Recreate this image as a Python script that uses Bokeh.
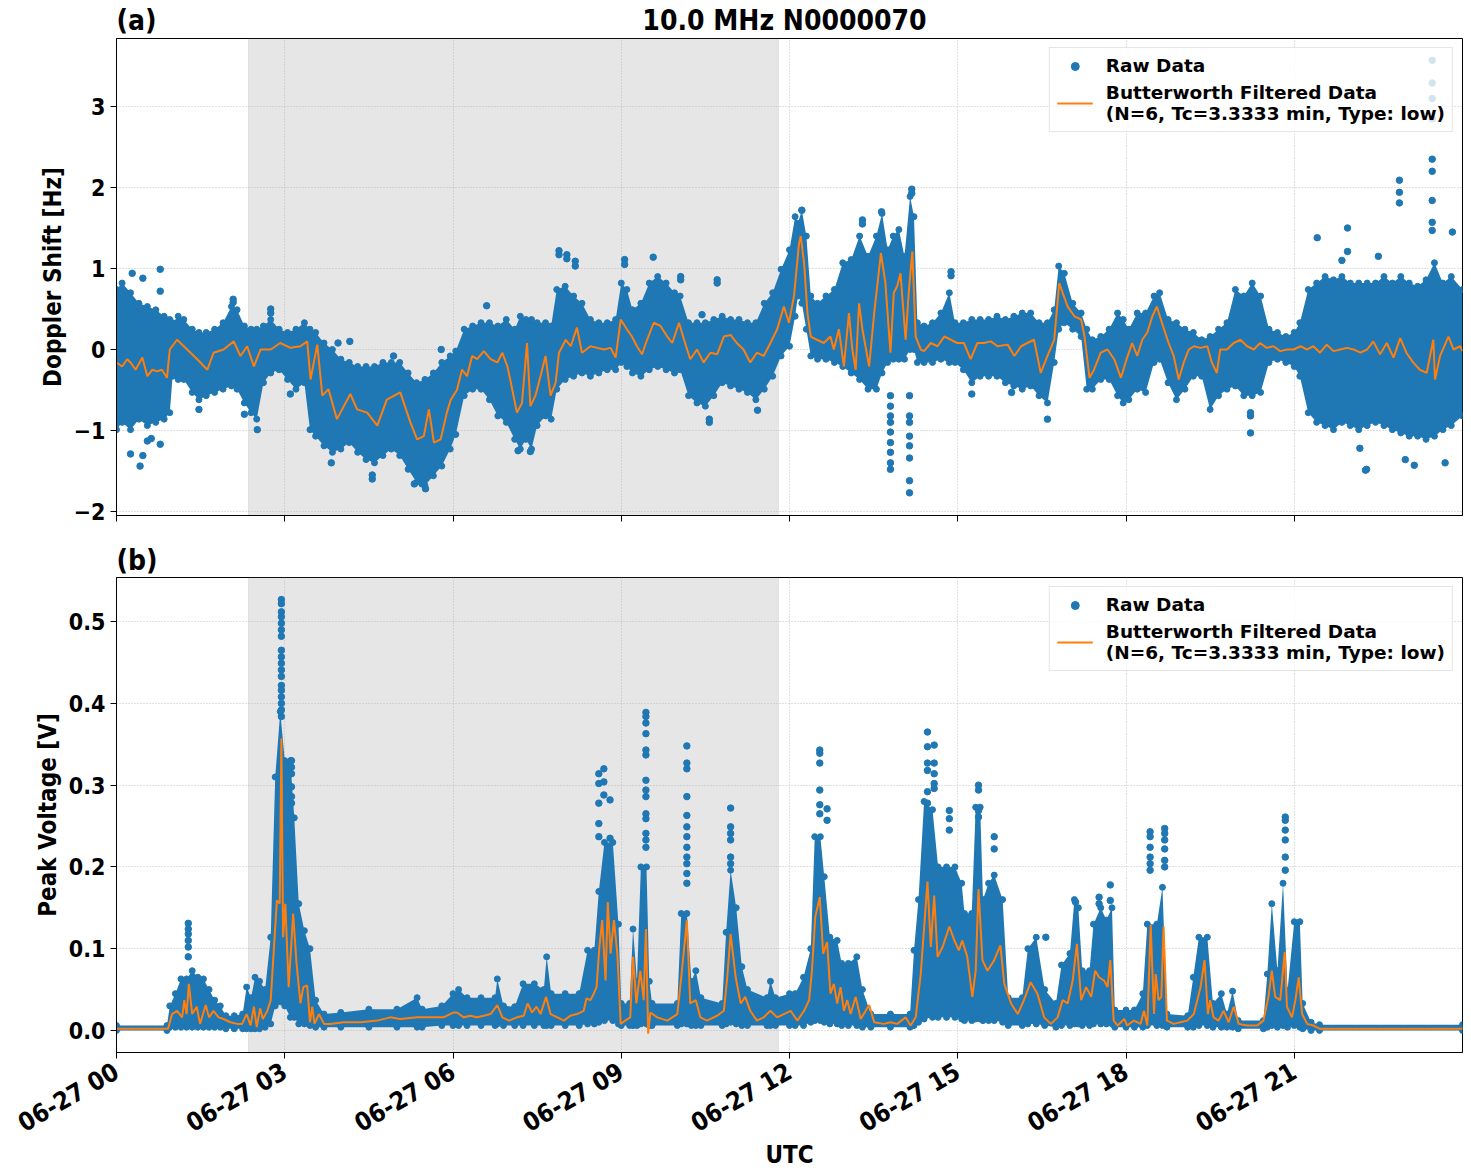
import math
from bokeh.plotting import figure
from bokeh.layouts import column
from bokeh.core.properties import value
from bokeh.models import (Range1d, FixedTicker, DatetimeTickFormatter, BoxAnnotation,
                          Legend, LegendItem, PrintfTickFormatter, CustomJSTickFormatter)
from bokeh.embed import file_html
from bokeh.resources import INLINE

# ---------------------------------------------------------------- data
DAY_START_MS = 1719446400000.0  # 06-27 00:00 UTC
HOUR_MS = 3600000.0

TITLE = "10.0 MHz N0000070"
FILTER_LABEL = "Butterworth Filtered Data\n(N=6, Tc=3.3333 min, Type: low)"
TICK_HOURS = [0, 3, 6, 9, 12, 15, 18, 21]
NIGHT_SPAN = (2.354, 11.804)  # shaded interval, hours UTC

# Doppler shift raw-data spread: (hour, low, high) [Hz]
DOPPLER_SPREAD = [
    (0.00, -0.99, 0.74), (0.10, -0.90, 0.82), (0.25, -0.99, 0.70), (0.40, -0.86, 0.57),
    (0.55, -0.94, 0.53), (0.70, -0.90, 0.49), (0.85, -0.86, 0.41), (0.95, -0.78, 0.37),
    (1.00, -0.33, 0.33), (1.10, -0.37, 0.41), (1.20, -0.37, 0.37), (1.35, -0.53, 0.25),
    (1.47, -0.62, 0.21), (1.60, -0.57, 0.21), (1.75, -0.53, 0.25), (1.90, -0.49, 0.33),
    (2.05, -0.45, 0.53), (2.15, -0.49, 0.49), (2.28, -0.66, 0.29), (2.40, -0.78, 0.25),
    (2.50, -0.86, 0.25), (2.62, -0.41, 0.29), (2.75, -0.29, 0.37), (2.90, -0.25, 0.25),
    (3.05, -0.37, 0.21), (3.20, -0.49, 0.25), (3.35, -0.41, 0.33), (3.45, -0.99, 0.25),
    (3.55, -1.07, 0.21), (3.70, -1.19, 0.08), (3.85, -1.27, 0.00), (4.00, -1.23, -0.12),
    (4.15, -1.15, -0.16), (4.30, -1.27, -0.21), (4.45, -1.36, -0.21), (4.60, -1.40, -0.21),
    (4.75, -1.31, -0.16), (4.90, -1.23, -0.16), (5.05, -1.31, -0.16), (5.20, -1.48, -0.29),
    (5.35, -1.64, -0.41), (5.50, -1.68, -0.37), (5.65, -1.56, -0.29), (5.80, -1.44, -0.16),
    (5.95, -1.23, -0.08), (6.05, -1.05, -0.02), (6.20, -0.57, 0.25), (6.35, -0.49, 0.29),
    (6.50, -0.49, 0.33), (6.65, -0.62, 0.33), (6.80, -0.82, 0.29), (6.95, -0.90, 0.37),
    (7.10, -1.11, 0.25), (7.20, -1.23, 0.41), (7.30, -1.11, 0.37), (7.40, -1.23, 0.37),
    (7.50, -0.94, 0.33), (7.65, -0.82, 0.33), (7.75, -0.86, 0.29), (7.85, -0.49, 0.74),
    (8.00, -0.37, 0.78), (8.15, -0.33, 0.66), (8.30, -0.29, 0.57), (8.45, -0.33, 0.37),
    (8.60, -0.29, 0.33), (8.75, -0.25, 0.33), (8.90, -0.25, 0.37), (9.00, -0.16, 0.82),
    (9.10, -0.21, 0.74), (9.20, -0.29, 0.49), (9.35, -0.33, 0.57), (9.50, -0.25, 0.82),
    (9.65, -0.21, 0.90), (9.80, -0.25, 0.82), (9.95, -0.29, 0.70), (10.05, -0.25, 0.66),
    (10.20, -0.57, 0.33), (10.35, -0.66, 0.33), (10.50, -0.70, 0.33), (10.65, -0.57, 0.37),
    (10.80, -0.41, 0.41), (10.95, -0.45, 0.37), (11.10, -0.49, 0.37), (11.25, -0.53, 0.33),
    (11.40, -0.62, 0.33), (11.55, -0.49, 0.57), (11.70, -0.33, 0.70), (11.85, -0.08, 0.99),
    (12.00, 0.04, 1.23), (12.10, 0.41, 1.64), (12.15, 0.66, 1.56), (12.22, 0.57, 1.72),
    (12.30, 0.25, 1.40), (12.38, -0.08, 0.66), (12.50, -0.12, 0.57), (12.65, -0.12, 0.66),
    (12.80, -0.16, 0.74), (12.95, -0.21, 1.07), (13.10, -0.29, 1.11), (13.25, -0.37, 1.40),
    (13.40, -0.49, 1.15), (13.55, -0.49, 1.40), (13.65, -0.29, 1.68), (13.75, -0.16, 1.23),
    (13.85, -0.12, 1.40), (13.95, -0.12, 1.48), (14.05, -0.12, 1.15), (14.15, 0.00, 1.89),
    (14.22, 0.00, 1.64), (14.28, -0.16, 0.33), (14.40, -0.16, 0.29), (14.55, -0.16, 0.33),
    (14.70, -0.12, 0.45), (14.85, -0.16, 0.70), (14.95, -0.16, 0.33), (15.10, -0.25, 0.33),
    (15.25, -0.41, 0.37), (15.40, -0.33, 0.37), (15.55, -0.33, 0.37), (15.70, -0.33, 0.41),
    (15.85, -0.41, 0.37), (16.00, -0.45, 0.41), (16.15, -0.49, 0.45), (16.30, -0.45, 0.45),
    (16.45, -0.57, 0.33), (16.60, -0.66, 0.33), (16.72, -0.16, 0.49), (16.80, 0.25, 1.03),
    (16.90, 0.33, 0.94), (17.05, 0.25, 0.57), (17.20, 0.16, 0.45), (17.30, -0.49, 0.25),
    (17.40, -0.49, 0.12), (17.55, -0.37, 0.16), (17.70, -0.37, 0.25), (17.85, -0.57, 0.45),
    (17.95, -0.66, 0.37), (18.05, -0.62, 0.25), (18.20, -0.49, 0.45), (18.35, -0.53, 0.45),
    (18.50, -0.16, 0.66), (18.60, -0.12, 0.70), (18.75, -0.41, 0.37), (18.90, -0.62, 0.33),
    (19.05, -0.49, 0.25), (19.20, -0.33, 0.21), (19.35, -0.33, 0.12), (19.50, -0.74, 0.16),
    (19.65, -0.57, 0.25), (19.80, -0.49, 0.33), (19.95, -0.45, 0.74), (20.10, -0.57, 0.66),
    (20.25, -0.57, 0.82), (20.40, -0.53, 0.66), (20.55, -0.16, 0.25), (20.70, -0.12, 0.21),
    (20.85, -0.16, 0.16), (21.00, -0.21, 0.21), (21.10, -0.33, 0.33), (21.25, -0.78, 0.74),
    (21.40, -0.90, 0.82), (21.55, -0.94, 0.90), (21.70, -0.99, 0.86), (21.85, -0.90, 0.90),
    (22.00, -0.94, 0.82), (22.15, -0.99, 0.82), (22.30, -0.94, 0.82), (22.45, -0.90, 0.82),
    (22.60, -0.94, 0.90), (22.75, -0.99, 0.82), (22.90, -1.03, 0.90), (23.05, -1.07, 0.82),
    (23.20, -1.07, 0.78), (23.35, -1.11, 0.86), (23.50, -1.07, 1.07), (23.65, -0.99, 0.82),
    (23.80, -0.94, 0.90), (24.00, -0.82, 0.74),
]

# Doppler shift isolated raw samples: (hour, value) [Hz]
DOPPLER_OUTLIERS = [
    (0.28, 0.94), (0.47, 0.88), (0.78, 0.99), (0.78, 0.72), (0.42, -1.44), (0.25, -1.29),
    (0.47, -1.31), (0.78, -1.17), (0.55, -1.13), (0.62, -1.10), (1.47, -0.74), (2.28, -0.80),
    (2.51, -0.99), (2.75, 0.45), (2.75, 0.50), (2.08, 0.62), (2.08, 0.58), (3.10, -0.55),
    (3.83, -1.40), (4.56, -1.60), (4.56, -1.55), (5.31, -1.66), (5.51, -1.72), (5.45, -1.66),
    (5.79, 0.00), (3.95, 0.08), (4.16, 0.10), (4.94, -0.08),
    (6.60, 0.54), (7.89, 1.22), (7.89, 1.17), (8.03, 1.17), (8.03, 1.12), (8.18, 1.09),
    (8.18, 1.03), (9.06, 1.11), (9.06, 1.05), (9.57, 1.14), (10.06, 0.90), (10.06, 0.86),
    (10.71, 0.86), (10.71, 0.82), (10.44, 0.43), (11.43, -0.75), (10.57, -0.90), (10.57, -0.86),
    (7.16, -1.25), (7.38, -1.26),
    (12.22, 1.72), (13.64, 1.70), (14.18, 1.98), (14.18, 1.93), (13.30, 1.60), (13.30, 1.55),
    (14.88, 0.96), (14.88, 0.91),
    (13.80, -0.57), (13.80, -0.70), (13.80, -0.82), (13.80, -0.90), (13.80, -1.02),
    (13.80, -1.15), (13.80, -1.27), (13.80, -1.40), (13.80, -1.48),
    (14.14, -0.57), (14.14, -0.82), (14.14, -0.90), (14.14, -1.07), (14.14, -1.19),
    (14.14, -1.34), (14.14, -1.62), (14.14, -1.77),
    (16.60, -0.86), (15.25, -0.55), (15.96, -0.53),
    (20.22, -1.03), (20.22, -0.82), (20.22, -0.78),
    (21.41, 1.38), (21.95, 1.50), (21.95, 1.21), (21.85, 1.10), (22.50, 1.15),
    (22.875, 2.09), (22.875, 1.94), (22.875, 1.81),
    (23.46, 2.35), (23.46, 2.20), (23.46, 1.84), (23.46, 1.57), (23.46, 1.47),
    (23.46, 3.57), (23.46, 3.29), (23.46, 3.10), (23.46, 2.85),
    (23.82, 1.45), (22.27, -1.49), (22.29, -1.48), (23.14, -1.43), (23.69, -1.40),
    (22.98, -1.36), (22.17, -1.22),
]

# Doppler shift after low-pass filtering: (hour, value) [Hz]
DOPPLER_FILTERED = [
    (0.00, -0.16), (0.10, -0.21), (0.19, -0.12), (0.25, -0.16), (0.34, -0.25), (0.46, -0.10),
    (0.55, -0.33), (0.64, -0.25), (0.72, -0.27), (0.81, -0.25), (0.90, -0.35), (0.95, 0.00),
    (1.08, 0.12), (1.26, 0.00), (1.44, -0.12), (1.62, -0.25), (1.73, -0.04), (1.91, 0.00),
    (2.09, 0.10), (2.21, -0.08), (2.33, 0.04), (2.45, -0.21), (2.57, 0.00), (2.75, 0.00),
    (2.92, 0.08), (3.10, 0.02), (3.28, 0.04), (3.40, 0.10), (3.46, -0.37), (3.58, 0.06),
    (3.67, -0.57), (3.78, -0.49), (3.93, -0.86), (4.17, -0.55), (4.29, -0.74), (4.47, -0.78),
    (4.65, -0.94), (4.82, -0.62), (5.06, -0.53), (5.24, -0.90), (5.36, -1.11), (5.48, -1.07),
    (5.57, -0.74), (5.66, -1.15), (5.78, -1.11), (5.89, -0.78), (5.96, -0.62), (6.07, -0.50),
    (6.16, -0.25), (6.25, -0.33), (6.34, -0.08), (6.43, -0.12), (6.55, -0.02), (6.67, -0.12),
    (6.79, -0.16), (6.88, -0.04), (6.97, -0.21), (7.02, -0.37), (7.14, -0.78), (7.23, -0.66),
    (7.32, 0.08), (7.38, -0.70), (7.47, -0.57), (7.56, -0.33), (7.65, -0.08), (7.74, -0.57),
    (7.83, -0.41), (7.89, -0.04), (8.01, 0.12), (8.10, 0.04), (8.21, 0.27), (8.30, -0.04),
    (8.45, 0.04), (8.57, 0.02), (8.69, 0.00), (8.81, 0.02), (8.90, -0.10), (8.99, 0.37),
    (9.10, 0.25), (9.19, 0.16), (9.28, 0.04), (9.37, -0.06), (9.46, 0.12), (9.58, 0.33),
    (9.70, 0.29), (9.82, 0.16), (9.91, 0.08), (10.03, 0.33), (10.12, 0.12), (10.23, -0.12),
    (10.35, 0.00), (10.47, -0.16), (10.59, -0.04), (10.71, -0.06), (10.83, 0.16), (10.95, 0.18),
    (11.06, 0.08), (11.18, 0.00), (11.30, -0.16), (11.42, -0.04), (11.54, -0.08), (11.66, 0.08),
    (11.78, 0.25), (11.90, 0.53), (11.99, 0.33), (12.08, 0.66), (12.17, 1.31), (12.20, 1.40),
    (12.26, 1.07), (12.32, 0.45), (12.38, 0.16), (12.49, 0.12), (12.61, 0.08), (12.73, 0.16),
    (12.79, 0.00), (12.88, 0.25), (12.97, -0.21), (13.06, 0.45), (13.12, 0.00), (13.18, -0.25),
    (13.24, 0.57), (13.30, 0.25), (13.42, -0.21), (13.51, 0.45), (13.63, 1.19), (13.71, 0.82),
    (13.80, -0.04), (13.86, 0.70), (13.92, 0.78), (13.98, 0.94), (14.07, 0.12), (14.13, 0.74),
    (14.19, 1.21), (14.25, 0.16), (14.34, 0.00), (14.40, -0.02), (14.52, 0.08), (14.64, 0.04),
    (14.76, 0.16), (14.88, 0.12), (14.99, 0.08), (15.11, 0.08), (15.23, -0.12), (15.35, 0.08),
    (15.47, 0.08), (15.59, 0.10), (15.71, 0.04), (15.89, 0.06), (16.01, -0.08), (16.13, 0.04),
    (16.24, 0.08), (16.36, 0.12), (16.48, -0.29), (16.60, -0.08), (16.72, 0.12), (16.81, 0.82),
    (16.87, 0.70), (16.96, 0.53), (17.08, 0.41), (17.20, 0.37), (17.26, 0.16), (17.35, -0.35),
    (17.43, -0.25), (17.55, -0.04), (17.67, 0.00), (17.79, -0.12), (17.91, -0.35), (18.02, -0.10),
    (18.11, 0.08), (18.20, -0.08), (18.29, 0.12), (18.38, 0.21), (18.47, 0.41), (18.55, 0.53),
    (18.64, 0.33), (18.76, 0.08), (18.85, -0.08), (18.94, -0.37), (19.03, -0.16), (19.12, 0.00),
    (19.21, 0.04), (19.33, 0.02), (19.45, 0.04), (19.53, -0.16), (19.62, -0.29), (19.68, 0.00),
    (19.80, 0.00), (19.92, 0.08), (20.04, 0.12), (20.16, 0.04), (20.28, 0.00), (20.39, 0.08),
    (20.51, 0.02), (20.63, 0.04), (20.75, -0.02), (20.87, 0.00), (20.99, 0.00), (21.11, 0.04),
    (21.23, 0.00), (21.34, 0.04), (21.46, -0.04), (21.58, 0.06), (21.70, -0.02), (21.82, 0.00),
    (21.94, 0.02), (22.06, 0.00), (22.18, -0.04), (22.30, 0.00), (22.41, 0.10), (22.53, -0.06),
    (22.65, 0.08), (22.77, -0.10), (22.89, 0.14), (23.00, -0.04), (23.12, -0.16), (23.24, -0.25),
    (23.36, -0.29), (23.48, 0.12), (23.51, -0.37), (23.60, -0.08), (23.75, 0.16), (23.84, 0.00),
    (23.96, 0.04), (24.00, -0.02),
]

# Peak voltage raw-data spread: (hour, low, high) [V]
VOLTAGE_SPREAD = [
    (0.00, 0.000, 0.006), (0.90, 0.000, 0.006), (0.95, 0.004, 0.030), (1.05, 0.004, 0.045),
    (1.15, 0.004, 0.063), (1.25, 0.004, 0.063), (1.35, 0.004, 0.073), (1.45, 0.004, 0.065),
    (1.55, 0.004, 0.063), (1.65, 0.004, 0.050), (1.75, 0.004, 0.037), (1.85, 0.004, 0.030),
    (1.95, 0.002, 0.018), (2.10, 0.002, 0.018), (2.25, 0.002, 0.020), (2.32, 0.002, 0.053),
    (2.40, 0.002, 0.040), (2.47, 0.002, 0.065), (2.55, 0.002, 0.060), (2.65, 0.004, 0.050),
    (2.75, 0.008, 0.114), (2.83, 0.030, 0.310), (2.92, 0.035, 0.390), (3.00, 0.030, 0.330),
    (3.10, 0.016, 0.330), (3.17, 0.016, 0.260), (3.25, 0.008, 0.155), (3.35, 0.008, 0.122),
    (3.45, 0.006, 0.100), (3.55, 0.004, 0.037), (3.70, 0.004, 0.020), (4.00, 0.004, 0.022),
    (4.50, 0.004, 0.026), (5.00, 0.004, 0.026), (5.36, 0.004, 0.040), (5.45, 0.004, 0.026),
    (5.80, 0.006, 0.030), (6.00, 0.006, 0.045), (6.10, 0.006, 0.050), (6.25, 0.006, 0.040),
    (6.50, 0.006, 0.040), (6.75, 0.006, 0.040), (6.79, 0.008, 0.063), (6.90, 0.006, 0.030),
    (7.10, 0.006, 0.029), (7.25, 0.006, 0.057), (7.45, 0.006, 0.057), (7.62, 0.006, 0.050),
    (7.67, 0.006, 0.090), (7.75, 0.006, 0.045), (8.00, 0.006, 0.045), (8.25, 0.006, 0.045),
    (8.40, 0.008, 0.098), (8.52, 0.008, 0.098), (8.60, 0.010, 0.170), (8.70, 0.012, 0.230),
    (8.85, 0.012, 0.230), (8.95, 0.008, 0.130), (9.00, 0.006, 0.033), (9.15, 0.006, 0.033),
    (9.21, 0.006, 0.124), (9.28, 0.006, 0.060), (9.35, 0.008, 0.200), (9.45, 0.008, 0.200),
    (9.50, 0.006, 0.060), (9.55, 0.006, 0.033), (10.00, 0.006, 0.033), (10.07, 0.008, 0.143),
    (10.17, 0.008, 0.143), (10.25, 0.006, 0.060), (10.33, 0.006, 0.073), (10.42, 0.006, 0.040),
    (10.80, 0.006, 0.033), (10.87, 0.008, 0.120), (10.95, 0.010, 0.196), (11.05, 0.008, 0.150),
    (11.15, 0.006, 0.078), (11.25, 0.006, 0.050), (11.60, 0.006, 0.040), (11.66, 0.006, 0.060),
    (11.75, 0.006, 0.040), (12.00, 0.006, 0.045), (12.10, 0.006, 0.045), (12.25, 0.006, 0.065),
    (12.38, 0.010, 0.100), (12.45, 0.012, 0.237), (12.55, 0.012, 0.237), (12.62, 0.010, 0.188),
    (12.72, 0.008, 0.114), (12.85, 0.008, 0.110), (12.93, 0.006, 0.082), (13.05, 0.006, 0.082),
    (13.20, 0.006, 0.090), (13.30, 0.004, 0.050), (13.45, 0.004, 0.020), (13.80, 0.004, 0.020),
    (14.15, 0.004, 0.020), (14.22, 0.006, 0.098), (14.30, 0.010, 0.160), (14.40, 0.014, 0.280),
    (14.55, 0.016, 0.270), (14.65, 0.016, 0.200), (14.80, 0.016, 0.200), (14.95, 0.016, 0.200),
    (15.07, 0.014, 0.180), (15.12, 0.012, 0.143), (15.25, 0.012, 0.143), (15.32, 0.014, 0.273),
    (15.40, 0.014, 0.273), (15.45, 0.012, 0.160), (15.55, 0.012, 0.180), (15.65, 0.012, 0.190),
    (15.80, 0.010, 0.160), (15.90, 0.006, 0.040), (16.15, 0.006, 0.040), (16.25, 0.008, 0.100),
    (16.40, 0.008, 0.114), (16.55, 0.006, 0.050), (16.75, 0.004, 0.033), (16.85, 0.006, 0.080),
    (17.00, 0.006, 0.094), (17.08, 0.008, 0.160), (17.15, 0.008, 0.150), (17.22, 0.006, 0.073),
    (17.35, 0.006, 0.073), (17.42, 0.008, 0.130), (17.55, 0.008, 0.150), (17.65, 0.008, 0.135),
    (17.75, 0.008, 0.150), (17.80, 0.004, 0.025), (18.00, 0.004, 0.025), (18.15, 0.004, 0.025),
    (18.30, 0.004, 0.045), (18.38, 0.006, 0.130), (18.55, 0.006, 0.130), (18.65, 0.006, 0.175),
    (18.73, 0.004, 0.020), (19.10, 0.004, 0.018), (19.20, 0.004, 0.065), (19.30, 0.006, 0.114),
    (19.45, 0.006, 0.114), (19.55, 0.004, 0.033), (19.70, 0.004, 0.045), (19.80, 0.004, 0.020),
    (19.90, 0.004, 0.048), (20.00, 0.002, 0.012), (20.45, 0.002, 0.012), (20.52, 0.004, 0.069),
    (20.60, 0.006, 0.155), (20.70, 0.004, 0.073), (20.80, 0.006, 0.180), (20.88, 0.004, 0.049),
    (21.00, 0.006, 0.133), (21.10, 0.004, 0.133), (21.15, 0.002, 0.033), (21.30, 0.000, 0.010),
    (21.45, 0.000, 0.007), (24.00, 0.000, 0.007),
]

# Peak voltage isolated raw samples: (hour, value) [V]
VOLTAGE_OUTLIERS = [
    (2.94, 0.527), (2.94, 0.522), (2.94, 0.512), (2.94, 0.506), (2.94, 0.498), (2.94, 0.490),
    (2.94, 0.482), (2.94, 0.465), (2.94, 0.457), (2.94, 0.449), (2.94, 0.441), (2.94, 0.433),
    (2.94, 0.422), (2.94, 0.416), (2.94, 0.408), (2.94, 0.400), (2.94, 0.392), (2.94, 0.384),
    (1.28, 0.131), (1.28, 0.124), (1.28, 0.118), (1.28, 0.110), (1.28, 0.102), (1.28, 0.090),
    (3.12, 0.330), (3.12, 0.322), (3.12, 0.314), (3.12, 0.298), (3.12, 0.286), (3.12, 0.278),
    (3.12, 0.261),
    (8.60, 0.314), (8.60, 0.302), (8.60, 0.278), (8.60, 0.253), (8.60, 0.237),
    (8.69, 0.320), (8.69, 0.304), (8.69, 0.288), (8.80, 0.282), (8.80, 0.235),
    (9.44, 0.389), (9.44, 0.384), (9.44, 0.376), (9.44, 0.363), (9.44, 0.343), (9.44, 0.337),
    (9.44, 0.306), (9.44, 0.294), (9.44, 0.286), (9.44, 0.265), (9.44, 0.259), (9.44, 0.241),
    (9.44, 0.233), (9.44, 0.224),
    (10.17, 0.348), (10.17, 0.327), (10.17, 0.320), (10.17, 0.286), (10.17, 0.263),
    (10.17, 0.249), (10.17, 0.237), (10.17, 0.224), (10.17, 0.212), (10.17, 0.204),
    (10.17, 0.192), (10.17, 0.180),
    (10.95, 0.272), (10.95, 0.249), (10.95, 0.241), (10.95, 0.233), (10.95, 0.212), (10.95, 0.204),
    (12.54, 0.343), (12.54, 0.339), (12.54, 0.327), (12.54, 0.294), (12.54, 0.276), (12.54, 0.265),
    (12.67, 0.271), (12.67, 0.257),
    (14.46, 0.365), (14.46, 0.347), (14.46, 0.327), (14.46, 0.318), (14.46, 0.292), (14.46, 0.278),
    (14.58, 0.349), (14.58, 0.327), (14.58, 0.314), (14.58, 0.302), (14.58, 0.296),
    (14.85, 0.269), (14.85, 0.259), (14.85, 0.245),
    (15.37, 0.300), (15.37, 0.294), (15.37, 0.269), (15.37, 0.261),
    (15.65, 0.237), (15.65, 0.222), (16.57, 0.114),
    (17.52, 0.163), (17.52, 0.155), (17.72, 0.178), (17.72, 0.159), (17.10, 0.157),
    (18.43, 0.243), (18.43, 0.237), (18.43, 0.224), (18.43, 0.212), (18.43, 0.204), (18.43, 0.196),
    (18.69, 0.247), (18.69, 0.241), (18.69, 0.233), (18.69, 0.222), (18.69, 0.208), (18.69, 0.200),
    (20.84, 0.261), (20.84, 0.257), (20.84, 0.245), (20.84, 0.233), (20.84, 0.212), (20.84, 0.196),
]

# Peak voltage after low-pass filtering: (hour, value) [V]
VOLTAGE_FILTERED = [
    (0.00, 0.002), (0.92, 0.002), (0.99, 0.020), (1.08, 0.024), (1.17, 0.016), (1.21, 0.037),
    (1.25, 0.020), (1.29, 0.057), (1.35, 0.020), (1.43, 0.029), (1.49, 0.008), (1.59, 0.031),
    (1.65, 0.016), (1.73, 0.024), (1.82, 0.016), (1.91, 0.014), (2.03, 0.010), (2.15, 0.008),
    (2.24, 0.008), (2.32, 0.020), (2.39, 0.006), (2.45, 0.029), (2.50, 0.004), (2.56, 0.027),
    (2.61, 0.014), (2.69, 0.024), (2.75, 0.037), (2.79, 0.082), (2.86, 0.159), (2.91, 0.155),
    (2.94, 0.357), (2.97, 0.114), (3.01, 0.155), (3.07, 0.053), (3.15, 0.143), (3.21, 0.082),
    (3.28, 0.033), (3.33, 0.053), (3.40, 0.055), (3.45, 0.010), (3.49, 0.029), (3.53, 0.008),
    (3.61, 0.020), (3.70, 0.008), (3.81, 0.008), (4.05, 0.010), (4.35, 0.010), (4.65, 0.012),
    (4.88, 0.016), (5.06, 0.014), (5.36, 0.016), (5.60, 0.016), (5.83, 0.016), (6.01, 0.022),
    (6.07, 0.022), (6.19, 0.016), (6.31, 0.018), (6.43, 0.016), (6.55, 0.018), (6.67, 0.020),
    (6.79, 0.031), (6.88, 0.016), (7.00, 0.012), (7.14, 0.016), (7.26, 0.018), (7.33, 0.033),
    (7.41, 0.022), (7.49, 0.029), (7.56, 0.020), (7.66, 0.041), (7.74, 0.020), (7.86, 0.016),
    (7.98, 0.012), (8.09, 0.018), (8.21, 0.020), (8.33, 0.024), (8.38, 0.039), (8.45, 0.037),
    (8.51, 0.045), (8.56, 0.053), (8.61, 0.102), (8.66, 0.135), (8.72, 0.061), (8.76, 0.157),
    (8.81, 0.094), (8.87, 0.135), (8.93, 0.094), (8.99, 0.008), (9.07, 0.012), (9.16, 0.016),
    (9.21, 0.090), (9.27, 0.033), (9.34, 0.073), (9.40, 0.037), (9.44, 0.124), (9.48, -0.004),
    (9.52, 0.022), (9.64, 0.016), (9.82, 0.012), (10.00, 0.020), (10.07, 0.065), (10.17, 0.135),
    (10.23, 0.033), (10.33, 0.037), (10.41, 0.016), (10.53, 0.012), (10.71, 0.018), (10.83, 0.024),
    (10.89, 0.065), (10.95, 0.118), (11.04, 0.065), (11.13, 0.033), (11.21, 0.041), (11.30, 0.024),
    (11.42, 0.012), (11.54, 0.016), (11.66, 0.024), (11.78, 0.016), (11.90, 0.020), (12.02, 0.024),
    (12.14, 0.012), (12.26, 0.024), (12.35, 0.037), (12.40, 0.073), (12.46, 0.139), (12.54, 0.163),
    (12.60, 0.094), (12.67, 0.108), (12.73, 0.045), (12.79, 0.057), (12.85, 0.033), (12.91, 0.053),
    (12.97, 0.024), (13.03, 0.037), (13.09, 0.020), (13.18, 0.041), (13.27, 0.014), (13.42, 0.031),
    (13.51, 0.010), (13.68, 0.008), (13.80, 0.010), (13.92, 0.008), (14.07, 0.016), (14.16, 0.006),
    (14.25, 0.016), (14.34, 0.069), (14.46, 0.182), (14.52, 0.102), (14.58, 0.165), (14.64, 0.090),
    (14.73, 0.102), (14.85, 0.127), (14.94, 0.110), (15.02, 0.098), (15.08, 0.110), (15.17, 0.090),
    (15.26, 0.041), (15.32, 0.073), (15.37, 0.173), (15.44, 0.086), (15.53, 0.073), (15.65, 0.086),
    (15.76, 0.104), (15.83, 0.057), (15.95, 0.033), (16.07, 0.020), (16.18, 0.037), (16.30, 0.059),
    (16.42, 0.045), (16.54, 0.016), (16.66, 0.008), (16.78, 0.016), (16.87, 0.037), (16.96, 0.033),
    (17.05, 0.061), (17.125, 0.106), (17.20, 0.037), (17.29, 0.053), (17.38, 0.041), (17.45, 0.073),
    (17.52, 0.065), (17.61, 0.061), (17.67, 0.053), (17.72, 0.086), (17.78, 0.012), (17.85, 0.006),
    (17.97, 0.014), (18.02, 0.006), (18.14, 0.012), (18.26, 0.008), (18.32, 0.024), (18.38, 0.006),
    (18.44, 0.129), (18.50, 0.020), (18.53, 0.069), (18.58, 0.037), (18.63, 0.041), (18.67, 0.127),
    (18.73, 0.012), (18.85, 0.008), (18.97, 0.010), (19.09, 0.012), (19.21, 0.020), (19.33, 0.053),
    (19.40, 0.086), (19.46, 0.020), (19.50, 0.037), (19.56, 0.016), (19.65, 0.012), (19.74, 0.024),
    (19.83, 0.010), (19.92, 0.029), (20.01, 0.008), (20.16, 0.006), (20.34, 0.006), (20.45, 0.012),
    (20.54, 0.041), (20.60, 0.073), (20.66, 0.041), (20.75, 0.037), (20.83, 0.096), (20.87, 0.029),
    (20.96, 0.016), (21.02, 0.037), (21.08, 0.065), (21.14, 0.020), (21.23, 0.008), (21.34, 0.006),
    (21.46, 0.002), (24.00, 0.002),
]

# ---------------------------------------------------------------- styling
FONT = "DejaVu Sans Condensed"
RAW_BLUE = "#1f77b4"
FILT_ORANGE = "#ff7f0e"
FRAME_W = 1346
BORDER_L = 116
BORDER_R = 9


def to_ms(hours):
    return [DAY_START_MS + h * HOUR_MS for h in hours]


def build_header(height, entries):
    """Strip above a panel carrying its tag and heading; x from the frame's left edge,
    y measured down from the strip's top edge."""
    h = figure(frame_width=FRAME_W, frame_height=height, title=None,
               x_range=Range1d(0, FRAME_W), y_range=Range1d(height, 0),
               output_backend="svg", toolbar_location=None,
               min_border_left=BORDER_L, min_border_right=BORDER_R,
               min_border_top=0, min_border_bottom=0,
               x_axis_location=None, y_axis_location=None, outline_line_color=None,
               background_fill_color="white", border_fill_color="white")
    h.grid.visible = False
    for x, y, txt, align in entries:
        h.text(x=[x], y=[y], text=[txt], text_font=value(FONT), text_font_style="bold",
               text_font_size="28px", text_align=align, text_baseline="middle",
               text_color="black")
    return h


def build_panel(y_label, y_lo, y_hi, y_ticks, y_fmt, spread, outliers, filtered,
                frame_h, border_top, border_bottom, show_dates):
    p = figure(frame_width=FRAME_W, frame_height=frame_h, x_axis_type="datetime",
               title=None, output_backend="svg", toolbar_location=None,
               min_border_left=BORDER_L, min_border_right=BORDER_R,
               min_border_top=border_top, min_border_bottom=border_bottom,
               background_fill_color="white", border_fill_color="white")
    p.x_range = Range1d(DAY_START_MS, DAY_START_MS + 24 * HOUR_MS)
    p.y_range = Range1d(y_lo, y_hi)

    # shaded interval, kept below the grid
    p.add_layout(BoxAnnotation(left=DAY_START_MS + NIGHT_SPAN[0] * HOUR_MS,
                               right=DAY_START_MS + NIGHT_SPAN[1] * HOUR_MS,
                               fill_color="#808080", fill_alpha=0.2,
                               line_color="#808080", line_alpha=0.15, level="image"))

    xs = to_ms([s[0] for s in spread])
    lows = [s[1] for s in spread]
    highs = [s[2] for s in spread]
    p.varea(x=xs, y1=lows, y2=highs, fill_color=RAW_BLUE)
    p.scatter(xs + xs, lows + highs, size=6, color=RAW_BLUE)
    raw = p.scatter(to_ms([o[0] for o in outliers]), [o[1] for o in outliers],
                    size=6.5, color=RAW_BLUE)
    filt = p.line(to_ms([f[0] for f in filtered]), [f[1] for f in filtered],
                  line_color=FILT_ORANGE, line_width=2)

    tick_ms = to_ms(TICK_HOURS)
    xax, yax = p.xaxis[0], p.yaxis[0]
    xax.ticker = FixedTicker(ticks=tick_ms)
    yax.ticker = FixedTicker(ticks=y_ticks)
    yax.formatter = y_fmt
    yax.axis_label = y_label
    for ax in (xax, yax):
        ax.axis_line_color = "black"
        ax.major_tick_line_color = "black"
        ax.major_tick_out = 6
        ax.major_tick_in = 0
        ax.minor_tick_out = 0
        ax.minor_tick_in = 0
        ax.major_label_text_font = FONT
        ax.major_label_text_font_style = "bold"
        ax.major_label_text_font_size = "23px"
        ax.major_label_text_color = "black"
        ax.axis_label_text_font = FONT
        ax.axis_label_text_font_style = "bold"
        ax.axis_label_text_font_size = "24px"
        ax.axis_label_text_color = "black"
    yax.axis_label_standoff = 4
    if show_dates:
        xax.formatter = DatetimeTickFormatter(hours="%m-%d %H", hourmin="%m-%d %H",
                                              days="%m-%d %H", minutes="%m-%d %H",
                                              minsec="%m-%d %H", context=None)
        xax.major_label_orientation = math.pi / 6
        xax.major_label_text_font_size = "25px"
        xax.major_label_standoff = 11
        xax.axis_label = "UTC"
        xax.axis_label_standoff = -12
    else:
        xax.formatter = CustomJSTickFormatter(code="return ''")
        xax.major_label_standoff = 0

    for g, tk in ((p.xgrid[0], tick_ms), (p.ygrid[0], y_ticks)):
        g.ticker = FixedTicker(ticks=tk)
        g.grid_line_color = "#b0b0b0"
        g.grid_line_dash = "1 2"
        g.grid_line_width = 0.8

    p.outline_line_color = "black"
    p.outline_line_alpha = 1.0
    p.outline_line_width = 1

    legend = Legend(items=[LegendItem(label="Raw Data", renderers=[raw]),
                           LegendItem(label=FILTER_LABEL, renderers=[filt])],
                    location="top_right")
    legend.label_text_font = "DejaVu Sans"
    legend.label_text_font_style = "bold"
    legend.label_text_font_size = "18.5px"
    legend.label_text_color = "black"
    legend.label_text_line_height = 1.05
    legend.border_line_color = "#cccccc"
    legend.border_line_width = 1
    legend.background_fill_alpha = 0.8
    legend.margin = 9
    legend.padding = 7
    legend.spacing = 6
    legend.glyph_width = 36
    legend.label_standoff = 13
    p.add_layout(legend)
    return p


head_a = build_header(37, [(0, 20, "(a)", "left"), (668, 20, TITLE, "center")])
top = build_panel("Doppler Shift [Hz]", -2.05, 3.84, [-2, -1, 0, 1, 2, 3],
                  PrintfTickFormatter(format="%d"), DOPPLER_SPREAD, DOPPLER_OUTLIERS,
                  DOPPLER_FILTERED, 477, 1, 26, False)
top.yaxis[0].major_label_overrides = {-2: "\u22122", -1: "\u22121"}

head_b = build_header(35, [(0, 18.5, "(b)", "left")])
bottom = build_panel("Peak Voltage [V]", -0.027, 0.554,
                     [0.0, 0.1, 0.2, 0.3, 0.4, 0.5], PrintfTickFormatter(format="%.1f"),
                     VOLTAGE_SPREAD, VOLTAGE_OUTLIERS, VOLTAGE_FILTERED,
                     475, 1, 116, True)

layout = column(head_a, top, head_b, bottom, spacing=0)
open("out.html", "w").write(file_html(layout, INLINE))
